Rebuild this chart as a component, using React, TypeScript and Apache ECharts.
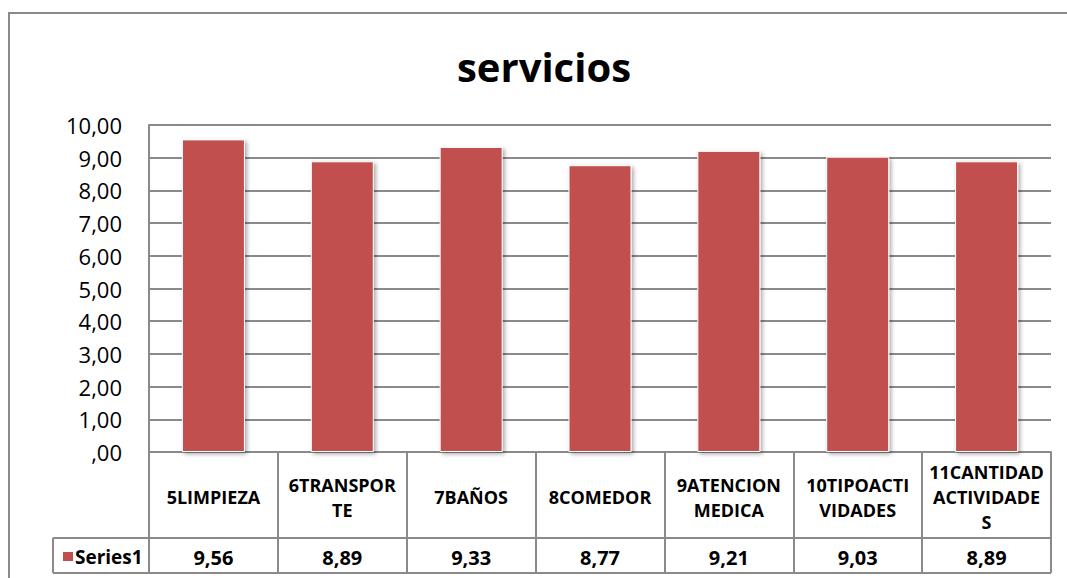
import React, { useEffect, useRef } from "react";
import * as echarts from "echarts";

const chartTitle = "servicios";
const seriesName = "Series1";
const categories = [
  "5LIMPIEZA",
  "6TRANSPORTE",
  "7BAÑOS",
  "8COMEDOR",
  "9ATENCIONMEDICA",
  "10TIPOACTIVIDADES",
  "11CANTIDADACTIVIDADES",
];
const categoryLabels = [
  "5LIMPIEZA",
  "6TRANSPOR\nTE",
  "7BAÑOS",
  "8COMEDOR",
  "9ATENCION\nMEDICA",
  "10TIPOACTI\nVIDADES",
  "11CANTIDAD\nACTIVIDADE\nS",
];
const values = [9.56, 8.89, 9.33, 8.77, 9.21, 9.03, 8.89];
const yMin = 0;
const yMax = 10;
const yStep = 1;

const FONT = "'Open Sans', 'Noto Sans', sans-serif";
const GRAY = "#8a8a8a";

const fmt = (v: number) => {
  const s = v.toFixed(2).replace(".", ",");
  return s.startsWith("0,") ? s.slice(1) : s;
};

export default function App() {
  const ref = useRef<HTMLDivElement>(null);
  useEffect(() => {
    if (!ref.current) return;
    const chart = echarts.init(ref.current, undefined, { renderer: "svg" });
    const gridLeft = 149;
    const gridTop = 125;
    const gridRight = 1051;
    const gridBottom = 452;
    const tableMid = 538;
    const tableBottom = 573;
    const tableLeft = 53;
    chart.setOption({
      animation: false,
      backgroundColor: "#ffffff",
      grid: {
        left: gridLeft,
        top: gridTop,
        width: gridRight - gridLeft,
        height: gridBottom - gridTop,
        containLabel: false,
      },
      legend: {
        data: [seriesName],
        left: 61,
        top: 547,
        padding: 0,
        itemWidth: 12,
        itemHeight: 11,
        itemGap: 0,
        icon: "rect",
        selectedMode: false,
        textStyle: {
          fontFamily: FONT,
          fontSize: 19,
          fontWeight: "bold",
          color: "#000",
          padding: [0, 0, 0, -4],
        },
      },
      xAxis: [
        {
          type: "category",
          data: categories,
          position: "bottom",
          axisLine: { show: true, lineStyle: { color: GRAY, width: 2 } },
          axisTick: {
            show: true,
            length: tableBottom - gridBottom,
            lineStyle: { color: GRAY, width: 2 },
          },
          axisLabel: {
            interval: 0,
            formatter: (_v: string, i: number) => categoryLabels[i],
            margin: 45,
            verticalAlign: "middle",
            lineHeight: 25,
            fontFamily: FONT,
            fontSize: 18,
            fontWeight: "bold",
            color: "#000",
          },
        },
        {
          type: "category",
          data: categories,
          position: "bottom",
          axisLine: { show: false },
          axisTick: { show: false },
          axisLabel: {
            interval: 0,
            formatter: (_v: string, i: number) => fmt(values[i]),
            margin: 105,
            verticalAlign: "middle",
            fontFamily: FONT,
            fontSize: 20,
            fontWeight: "bold",
            color: "#000",
          },
        },
      ],
      yAxis: {
        type: "value",
        min: yMin,
        max: yMax,
        interval: yStep,
        axisLine: { show: true, lineStyle: { color: GRAY, width: 2 } },
        axisTick: { show: false },
        splitLine: { show: true, lineStyle: { color: GRAY, width: 2 } },
        axisLabel: {
          formatter: (v: number) => fmt(v),
          margin: 27,
          fontFamily: FONT,
          fontSize: 22,
          color: "#000",
        },
      },
      series: [
        {
          name: seriesName,
          type: "bar",
          xAxisIndex: 0,
          data: values,
          barWidth: 63,
          itemStyle: {
            color: "#C0504D",
            borderColor: "#ffffff",
            borderWidth: 1,
            shadowBlur: 4,
            shadowColor: "rgba(0,0,0,0.35)",
            shadowOffsetX: 2,
            shadowOffsetY: 2,
          },
        },
      ],
      graphic: [
        {
          type: "polyline",
          shape: { points: [[9, 578], [9, 13], [1067, 13]] },
          style: { stroke: GRAY, lineWidth: 2, fill: "none" },
          silent: true,
        },
        {
          type: "text",
          x: 544,
          y: 66,
          style: {
            text: chartTitle,
            align: "center",
            verticalAlign: "middle",
            fontFamily: FONT,
            fontSize: 40,
            fontWeight: "bold",
            fill: "#000",
          },
        },
        {
          type: "line",
          shape: { x1: tableLeft, y1: tableMid, x2: gridRight, y2: tableMid },
          style: { stroke: GRAY, lineWidth: 2 },
        },
        {
          type: "line",
          shape: { x1: tableLeft, y1: tableBottom, x2: gridRight, y2: tableBottom },
          style: { stroke: GRAY, lineWidth: 2 },
        },
        {
          type: "line",
          shape: { x1: tableLeft, y1: tableMid, x2: tableLeft, y2: tableBottom },
          style: { stroke: GRAY, lineWidth: 2 },
        },
      ],
    });
    return () => chart.dispose();
  }, []);
  return (
    <div
      ref={ref}
      style={{ position: "fixed", left: 0, top: 0, width: 1067, height: 578 }}
    />
  );
}
